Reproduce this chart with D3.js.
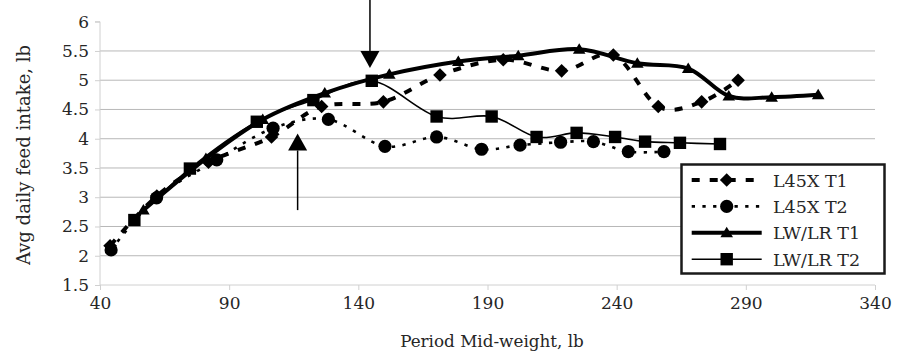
<!DOCTYPE html>
<html>
<head>
<meta charset="utf-8">
<script src="https://cdn.jsdelivr.net/npm/d3@7"></script>
<style>
  html, body { margin: 0; padding: 0; background: #fff; }
  svg { display: block; }
  text { font-family: "DejaVu Serif", "Liberation Serif", serif; fill: #262626; }
</style>
</head>
<body>
<svg id="chart" width="903" height="351"></svg>
<script>
// ---- data ----
const xTicks = [40, 90, 140, 190, 240, 290, 340];
const yTicks = [1.5, 2, 2.5, 3, 3.5, 4, 4.5, 5, 5.5, 6];
const seriesNames = ["L45X T1", "L45X T2", "LW/LR T1", "LW/LR T2"];

const l45xT1_x = [43.9, 62, 82, 106.4, 125.8, 149.7, 171.6, 196.1, 218.7, 238.7, 256.1, 272.9, 287];
const l45xT1_y = [2.17, 3.02, 3.6, 4.03, 4.55, 4.63, 5.09, 5.35, 5.16, 5.43, 4.55, 4.63, 5.0];

const l45xT2_x = [44.3, 61.9, 85.2, 107, 128.4, 150.3, 170.3, 187.7, 202.6, 218.3, 231, 244.5, 258.3];
const l45xT2_y = [2.10, 2.99, 3.64, 4.18, 4.33, 3.87, 4.03, 3.82, 3.89, 3.94, 3.95, 3.78, 3.78];

const lwlrT1_x = [56.8, 81, 103, 127, 152, 178.7, 201.9, 225.5, 248, 267.7, 283.4, 300, 318];
const lwlrT1_y = [2.78, 3.66, 4.33, 4.78, 5.1, 5.32, 5.42, 5.53, 5.29, 5.2, 4.73, 4.71, 4.75];

const lwlrT2_x = [53.3, 74.8, 100.7, 122.6, 145.2, 170.3, 191.6, 209, 224.5, 239.4, 251, 264.5, 280];
const lwlrT2_y = [2.61, 3.49, 4.29, 4.66, 4.99, 4.38, 4.38, 4.03, 4.10, 4.03, 3.95, 3.93, 3.91];

// annotation arrows (data units)
const arrowDown = { x: 144.5, from: 6.37, tip: 5.21 };
const arrowUp = { x: 116.5, from: 2.78, tip: 4.09 };

// ---- layout ----
const svg = d3.select("#chart");
const x = d3.scaleLinear().domain([40, 340]).range([100, 875]);
const y = d3.scaleLinear().domain([1.5, 6]).range([285, 21.7]);

// gridlines
svg.append("g").selectAll("line")
  .data(yTicks.filter(v => v > 1.5 && v < 6))
  .join("line")
  .attr("x1", x(40)).attr("x2", x(340))
  .attr("y1", d => y(d)).attr("y2", d => y(d))
  .attr("stroke", "#b8b8b8").attr("stroke-width", 1);

// y axis
const yAxis = d3.axisLeft(y).tickValues(yTicks).tickSize(5).tickPadding(6)
  .tickFormat(d => String(d));
const gy = svg.append("g").attr("transform", `translate(${x(40)},0)`).call(yAxis);
gy.select(".domain").attr("stroke", "#d0d0d0").attr("d", `M-5,${y(6)}H0V${y(1.5)}`);
gy.selectAll(".tick line").attr("stroke", "#d0d0d0");
gy.selectAll(".tick text").attr("font-size", 17).attr("fill", "#262626")
  .attr("font-family", "DejaVu Serif");

// x axis
const xAxis = d3.axisBottom(x).tickValues(xTicks).tickSize(5).tickPadding(7);
const gx = svg.append("g").attr("transform", `translate(0,${y(1.5)})`).call(xAxis);
gx.select(".domain").attr("stroke", "#d0d0d0").attr("d", `M${x(40)},0H${x(340)}`);
gx.selectAll(".tick line").attr("stroke", "#d0d0d0");
gx.selectAll(".tick text").attr("font-size", 17).attr("fill", "#262626")
  .attr("font-family", "DejaVu Serif");

// axis titles
svg.append("text")
  .attr("transform", `translate(30,155) rotate(-90)`)
  .attr("text-anchor", "middle").attr("font-size", 18)
  .text("Avg daily feed intake, lb");
svg.append("text")
  .attr("x", 492).attr("y", 347)
  .attr("text-anchor", "middle").attr("font-size", 16.8)
  .text("Period Mid-weight, lb");

// ---- marker shapes ----
function markerPath(kind) {
  if (kind === "diamond") return "M0,-6.8L6.8,0L0,6.8L-6.8,0Z";
  if (kind === "circle") return d3.symbol(d3.symbolCircle, Math.PI * 6.6 * 6.6)();
  if (kind === "square") return "M-6.2,-6.2H6.2V6.2H-6.2Z";
  if (kind === "triangle") return "M0,-6L6.3,4.5H-6.3Z";
}

const styles = [
  { name: seriesNames[0], xs: l45xT1_x, ys: l45xT1_y, width: 4, dash: "8,10", marker: "diamond" },
  { name: seriesNames[1], xs: l45xT2_x, ys: l45xT2_y, width: 2.6, dash: "3.3,7.4", marker: "circle" },
  { name: seriesNames[2], xs: lwlrT1_x, ys: lwlrT1_y, width: 4, dash: null, marker: "triangle" },
  { name: seriesNames[3], xs: lwlrT2_x, ys: lwlrT2_y, width: 1.6, dash: null, marker: "square" }
];

const line = d3.line().x(d => x(d[0])).y(d => y(d[1])).curve(d3.curveCardinal.tension(0));

const plot = svg.append("g");
styles.forEach(s => {
  const pts = s.xs.map((v, i) => [v, s.ys[i]]);
  const g = plot.append("g");
  g.append("path").datum(pts).attr("d", line)
    .attr("fill", "none").attr("stroke", "#000")
    .attr("stroke-width", s.width)
    .attr("stroke-dasharray", s.dash)
    .attr("stroke-linejoin", "round");
  g.selectAll("path.m").data(pts).join("path").attr("class", "m")
    .attr("d", markerPath(s.marker))
    .attr("transform", d => `translate(${x(d[0])},${y(d[1])})`)
    .attr("fill", "#000");
});

// ---- arrows ----
function arrow(a) {
  const g = svg.append("g");
  const tipY = y(a.tip), fromY = y(a.from);
  const dir = fromY < tipY ? 1 : -1; // 1: pointing down
  const head = 17, hw = 9.5;
  const baseY = tipY - dir * head;
  g.append("line").attr("x1", x(a.x)).attr("x2", x(a.x))
    .attr("y1", fromY).attr("y2", baseY)
    .attr("stroke", "#000").attr("stroke-width", 1.5);
  g.append("path")
    .attr("d", `M${x(a.x)},${tipY}L${x(a.x) + hw},${baseY}L${x(a.x) - hw},${baseY}Z`)
    .attr("fill", "#000");
}
arrow(arrowDown);
arrow(arrowUp);

// ---- legend ----
const lg = svg.append("g");
lg.append("rect").attr("x", 681.5).attr("y", 164.5).attr("width", 203).attr("height", 109)
  .attr("fill", "#fff").attr("stroke", "#1a1a1a").attr("stroke-width", 2.5);
styles.forEach((s, i) => {
  const cy = 180 + i * 26.4;
  lg.append("line").attr("x1", 691.7).attr("x2", 761.7).attr("y1", cy).attr("y2", cy)
    .attr("stroke", "#000").attr("stroke-width", s.width)
    .attr("stroke-dasharray", s.dash);
  lg.append("path").attr("d", markerPath(s.marker))
    .attr("transform", `translate(726.7,${cy})`).attr("fill", "#000");
  lg.append("text").attr("x", 773).attr("y", cy + 6.5)
    .attr("font-size", 17.5).text(s.name);
});
</script>
</body>
</html>
